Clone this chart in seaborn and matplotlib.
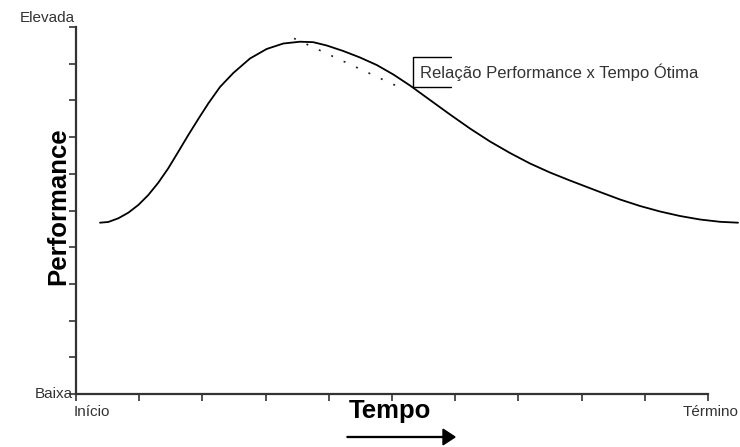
import matplotlib
matplotlib.use("Agg")
import matplotlib.pyplot as plt
import matplotlib.patches as mpatches
import numpy as np
import pandas as pd
import seaborn as sns

# performance curve (axes run 0..10 on both sides)
tempo = [0.380, 0.511, 0.669, 0.828, 0.986, 1.144, 1.302, 1.460, 1.619, 1.777,
         1.935, 2.093, 2.278, 2.489, 2.753, 3.017, 3.280, 3.544, 3.755, 3.967,
         4.229, 4.494, 4.758, 5.021, 5.285, 5.601, 5.918, 6.234, 6.551, 6.867,
         7.184, 7.500, 7.816, 8.291, 8.608, 8.924, 9.241, 9.557, 9.873, 10.190,
         10.475]
performance = [4.668, 4.687, 4.787, 4.940, 5.150, 5.422, 5.757, 6.150, 6.602, 7.057,
               7.493, 7.916, 8.365, 8.747, 9.142, 9.401, 9.550, 9.599, 9.586, 9.496,
               9.346, 9.169, 8.965, 8.706, 8.406, 8.011, 7.616, 7.234, 6.880, 6.567,
               6.281, 6.035, 5.817, 5.504, 5.300, 5.123, 4.973, 4.850, 4.755, 4.692,
               4.668]

# dotted "optimal" relation line
otima_x = [3.45, 5.09]
otima_y = [9.69, 8.38]

label_annot = "Relação Performance x Tempo Ótima"

df = pd.DataFrame({"Tempo": tempo, "Performance": performance})
df_otima = pd.DataFrame({"Tempo": otima_x, "Performance": otima_y})

sns.set_style("ticks")
plt.rcParams["font.family"] = ["Liberation Sans", "DejaVu Sans"]

fig = plt.figure(figsize=(7.4, 4.47), dpi=100)
ax = fig.add_axes([76 / 740, 1 - 394 / 447, 632 / 740, 367 / 447])

sns.lineplot(ax=ax, data=df, x="Tempo", y="Performance", color="black",
             linewidth=1.3, clip_on=False, sort=False)
sns.lineplot(ax=ax, data=df_otima, x="Tempo", y="Performance", color="#222222",
             linewidth=1.2, linestyle=(0, (1.2, 7)))

ax.set_xlim(0, 10)
ax.set_ylim(0, 10)
ax.set_xticks(np.arange(0, 11))
ax.set_yticks(np.arange(0, 11))
ax.set_xticklabels([])
ax.set_yticklabels([])
ax.tick_params(length=5, width=1.2, color="#333333")
ax.set_xlabel("")
ax.set_ylabel("")
sns.despine(ax=ax)
for s in ["left", "bottom"]:
    ax.spines[s].set_linewidth(1.6)
    ax.spines[s].set_color("#333333")

txt = "#333333"
ax.text(-0.02, 10.05, "Elevada", ha="right", va="bottom", fontsize=11, color=txt)
ax.text(-0.05, 0.0, "Baixa", ha="right", va="center", fontsize=11, color=txt)
ax.text(-0.03, -0.3, "Início", ha="left", va="top", fontsize=11, color=txt)
ax.text(10.48, -0.3, "Término", ha="right", va="top", fontsize=11, color=txt)

fig.text(58 / 740, 1 - 206 / 447, "Performance", rotation=90, ha="center",
         va="center", fontsize=18.5, fontweight="bold", color="black")
fig.text(390 / 740, 1 - 411 / 447, "Tempo", ha="center", va="center",
         fontsize=18.5, fontweight="bold", color="black")
fig.patches.append(mpatches.FancyArrow(
    347 / 740, 1 - 437 / 447, 96 / 740, 0, width=0.002, head_width=0.035,
    head_length=12 / 740, length_includes_head=False, color="black",
    transform=fig.transFigure, figure=fig))

# bracket box round the annotation
bx0, bx1, by0, by1 = 5.33, 5.94, 8.37, 9.19
ax.plot([bx1, bx0, bx0, bx1], [by1, by1, by0, by0], color="black", linewidth=1.0)
ax.text(5.44, 8.77, label_annot, ha="left", va="center", fontsize=12, color=txt)

fig.savefig("out.png", dpi=100)
